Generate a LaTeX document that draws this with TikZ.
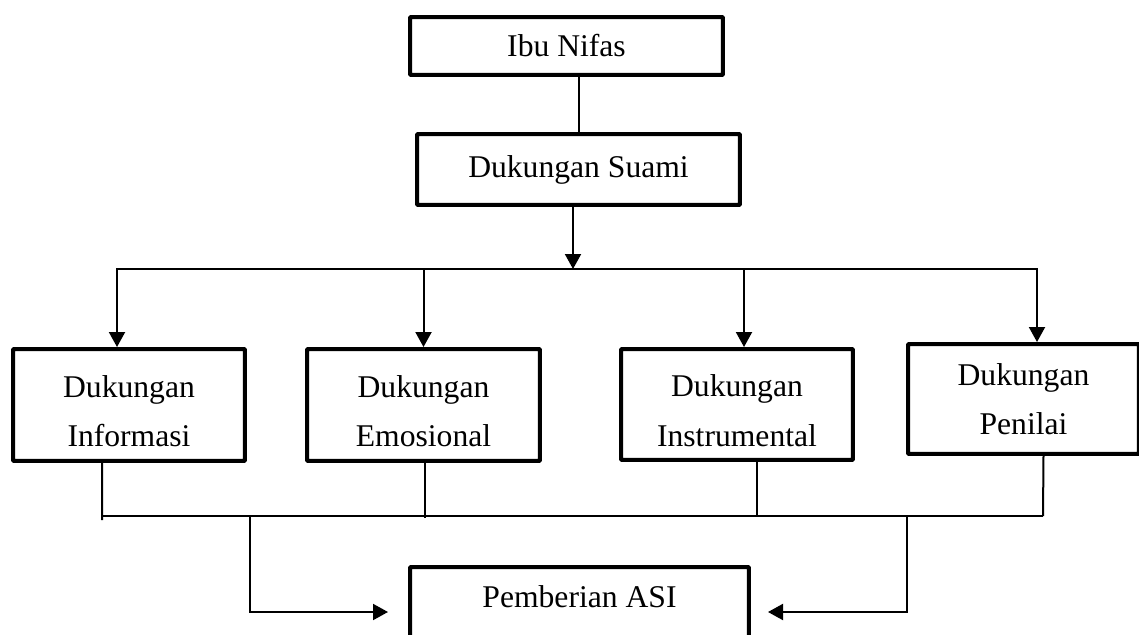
\documentclass[tikz,border=0pt]{standalone}
\usepackage{fontspec}
\setmainfont{Liberation Serif}
\usepackage{tikz}
\usetikzlibrary{arrows.meta,positioning,calc}

\begin{document}
\begin{tikzpicture}[
  x=0.02cm, y=-0.02cm,
  box/.style={draw=black, fill=white, line width=0.08cm, rounded corners=0.5pt,
              minimum width=4.64cm, minimum height=2.24cm, align=center,
              font=\fontsize{18}{28}\selectfont},
  link/.style={draw=black, line width=0.04cm},
  conn/.style={link, -{Triangle[length=0.3cm,width=0.32cm]}}
]
  \clip (0,0) rectangle (1139,635);

  \node[box, minimum width=6.26cm, minimum height=1.16cm]
    (ibu) at (566.5,46) {Ibu Nifas};
  \node[box, minimum width=6.46cm, minimum height=1.42cm]
    (suami) at (578.5,169.5) {Dukungan Suami};

  \node[box] (info) at (129,405) {\strut Dukungan\\Informasi};
  \node[box, minimum width=4.66cm] (emo) at (423.5,405) {\strut Dukungan\\Emosional};
  \node[box, minimum height=2.22cm] (instr) at (737,404.5) {\strut Dukungan\\Instrumental};
  \node[box, minimum width=4.62cm, minimum height=2.2cm]
    (penilai) at (1023.5,399) {Dukungan\\Penilai};

  \node[box, anchor=north, minimum width=6.78cm, minimum height=0pt,
        inner ysep=0.39cm, text height=0.43cm, text depth=1.6cm]
    (asi) at (579.5,565) {Pemberian ASI};

  % top split
  \coordinate (split) at (573,269);
  \draw[link] (suami.north) -- (suami.north |- ibu.south);
  \draw[conn] (suami.south -| split) -- (split);
  \draw[conn] (split) -| ([xshift=-0.24cm]info.north);
  \draw[conn] (split) -| (emo.north);
  \draw[conn] (split) -| ([xshift=0.14cm]instr.north);
  \draw[conn] (split) -| ([xshift=0.27cm]penilai.north);

  % bottom join
  \coordinate (joinL) at (102,516);
  \coordinate (joinR) at (1043,516);
  \coordinate (mergeL) at (250,516);
  \coordinate (mergeR) at (907,516);
  \coordinate (inL) at (388,612);
  \coordinate (inR) at (768,612);
  \draw[link] ([xshift=-0.54cm]info.south) -- ([yshift=-0.08cm]joinL);
  \draw[link] ([xshift=0.03cm]emo.south) -- ([xshift=0.03cm,yshift=-0.04cm]emo.south |- joinL);
  \draw[link] ([xshift=0.4cm]instr.south) -- ([xshift=0.4cm]instr.south |- joinL);
  \draw[link] ([xshift=0.4cm]penilai.south) -- (joinR);
  \draw[link] (joinL) -- (joinR);
  \draw[conn] (mergeL) |- (inL);
  \draw[conn] (mergeR) |- (inR);

\end{tikzpicture}
\end{document}
